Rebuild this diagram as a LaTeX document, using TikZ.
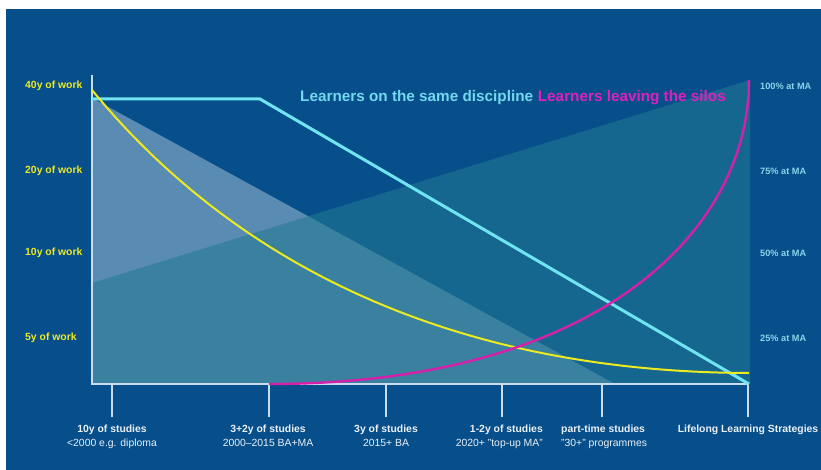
\documentclass[tikz,border=0pt]{standalone}
\usepackage{fontspec}
\setmainfont{Liberation Sans}
\usepackage{xcolor}
\usetikzlibrary{positioning}

\definecolor{slideblue}{RGB}{6,79,139}
\definecolor{tealarea}{RGB}{34,122,147}
\definecolor{axisgray}{RGB}{200,222,238}
\definecolor{samecyan}{RGB}{112,228,240}
\definecolor{titlecyan}{RGB}{115,215,238}
\definecolor{sharecyan}{RGB}{140,212,234}
\definecolor{workyellow}{RGB}{236,234,32}
\definecolor{silosmagenta}{RGB}{214,32,170}
\definecolor{titlemagenta}{RGB}{226,30,190}
\definecolor{studywhite}{RGB}{235,240,248}

\begin{document}
\begin{tikzpicture}[
        x=1pt, y=-1pt,
        axis/.style={draw=axisgray, line width=1.4pt},
        work/.style={text=workyellow, font=\bfseries\fontsize{10.4}{12}\selectfont, anchor=west, inner sep=0pt},
        share/.style={text=sharecyan, font=\bfseries\fontsize{9.2}{11}\selectfont, anchor=west, inner sep=0pt},
        study/.style={text=studywhite, font=\fontsize{10.4}{14}\selectfont, anchor=north, inner sep=0pt},
        title/.style={font=\bfseries\fontsize{15.3}{18}\selectfont, inner sep=0pt, text height=11pt, text depth=3pt}
      ]
      \useasboundingbox (0,0) rectangle (821,470);
      \fill[white] (0,0) rectangle (821,470);
      \fill[slideblue] (6,9) rectangle (821,470);

      % areas
      \fill[white, opacity=.34] (92,98) -- (615,384) -- (92,384) -- cycle;
      \fill[tealarea, opacity=.57] (92,283) -- (750,80) -- (750,384) -- (92,384) -- cycle;

      % axes and ticks
      \coordinate (origin) at (92,384);
      \coordinate (ytop) at (92,75);
      \coordinate (xend) at (749,384);
      \draw[axis] (ytop) -- (origin) -- (xend);
      \foreach \n/\x in {a/112, b/269, c/386, d/502, e/602, f/748} {
          \coordinate (tick\n) at (\x,384);
          \draw[axis] (tick\n) -- ++(0,33);
        }

      % curves
      \draw[samecyan, line width=3pt, line join=round] (92,99) -- (260,99) -- (749,384);
      \draw[workyellow, line width=2pt] (92,90) .. controls (215,240) and (420,372) .. (749,373);
      \draw[silosmagenta, line width=2.4pt] (269,384) .. controls (599,384) and (749,230) .. (749,80);

      % left labels
      \node[work] (w40) at (25,86) {40y of work};
      \node[work] (w20) at (25,171) {20y of work};
      \node[work] (w10) at (25,253) {10y of work};
      \node[work] (w5) at (25,338) {5y of work};

      % right labels
      \node[share] (ma100) at (760,86) {100\% at MA};
      \node[share] (ma75) at (760,171) {75\% at MA};
      \node[share] (ma50) at (760,253) {50\% at MA};
      \node[share] (ma25) at (760,338) {25\% at MA};

      % bottom labels
      \node[study, align=center] (s10) at (112,424.5) {\textbf{10y of studies}\\<2000 e.g. diploma};
      \node[study, align=center] (s32) at (268,424.5) {\textbf{3+2y of studies}\\2000--2015 BA+MA};
      \node[study, align=center] (s3) at (386,424.5) {\textbf{3y of studies}\\2015+ BA};
      \node[study, align=right, anchor=north east] (s12) at (543,424.5) {\textbf{1-2y of studies}\\2020+ "top-up MA"};
      \node[study, align=left, anchor=north west] (spt) at (561,424.5) {\textbf{part-time studies}\\"30+" programmes};
      \node[study, align=center] (sll) at (748,424.5) {\textbf{Lifelong Learning Strategies}};

      % titles
      \node[title, text=titlecyan, anchor=west] (same) at (300,98) {Learners on the same discipline};
      \node[title, text=titlemagenta, right=4.3pt of same] (silos) {Learners leaving the silos};
    \end{tikzpicture}
\end{document}
